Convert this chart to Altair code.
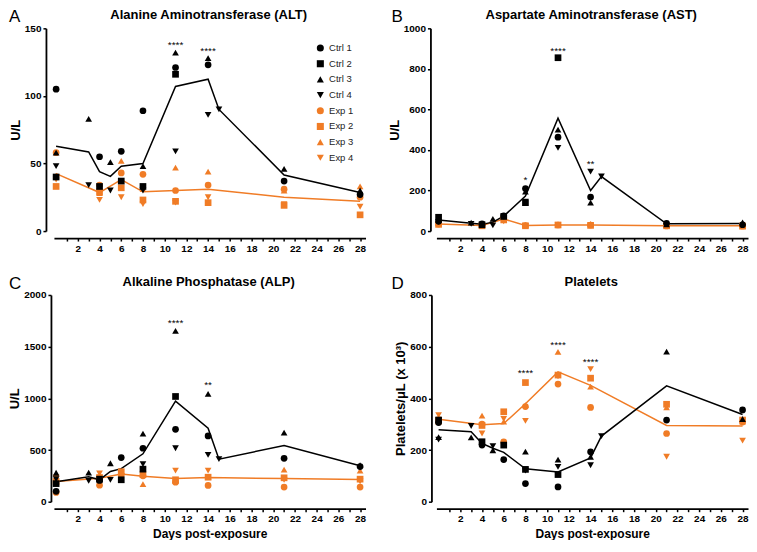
import altair as alt
import pandas as pd

# ---------------- data ----------------
SERIES = ["Ctrl 1", "Ctrl 2", "Ctrl 3", "Ctrl 4", "Exp 1", "Exp 2", "Exp 3", "Exp 4"]
SHAPES = ["circle", "square", "triangle-up", "triangle-down"] * 2
BLACK = "#000000"
ORANGE = "#F07C26"
COLORS = [BLACK] * 4 + [ORANGE] * 4

CTRL1_DAYS = [0, 4, 6, 8, 11, 14, 21, 28]
CTRL2_DAYS = [0, 4, 6, 8, 11]
CTRL3_DAYS = [0, 3, 5, 8, 11, 14, 21, 28]
CTRL4_DAYS = [0, 3, 5, 8, 11, 14, 15]
EXP_DAYS = [0, 4, 6, 8, 11, 14, 21, 28]

# Panel A - ALT (U/L)
ALT_CTRL1 = [105, 55, 59, 89, 121, 123, 37, 27]
ALT_CTRL2 = [40, 33, 37, 33, 116]
ALT_CTRL3 = [58, 83, 51, 48, 132, 128, 46, 30]
ALT_CTRL4 = [48, 34, 30, 30, 59, 86, 90]
ALT_EXP1 = [58, 34, 43, 42, 30, 34, 31, 25]
ALT_EXP2 = [33, 29, 32, 23, 22, 21, 19, 12]
ALT_EXP3 = [41, 28, 52, 31, 47, 44, 30, 33]
ALT_EXP4 = [38, 23, 25, 20, 21, 25, 20, 18]

# Panel B - AST (U/L)
AST_CTRL1 = [48, 35, 75, 210, 463, 168, 38, 31]
AST_CTRL2 = [68, 31, 72, 140, 855]
AST_CTRL3 = [55, 42, 60, 195, 500, 140, 33, 43]
AST_CTRL4 = [45, 35, 28, 145, 410, 293, 269]
AST_EXP1 = [35, 28, 65, 27, 30, 30, 25, 25]
AST_EXP2 = [33, 26, 55, 26, 30, 28, 26, 24]
AST_EXP3 = [40, 30, 70, 30, 32, 35, 28, 28]
AST_EXP4 = [32, 25, 48, 25, 28, 27, 25, 27]

# Panel C - ALP (U/L)
ALP_CTRL1 = [100, 205, 427, 517, 700, 636, 420, 340]
ALP_CTRL2 = [175, 218, 212, 315, 1018]
ALP_CTRL3 = [280, 282, 372, 658, 1653, 1043, 668, 354]
ALP_CTRL4 = [217, 202, 212, 363, 517, 453, 411]
ALP_EXP1 = [90, 160, 260, 250, 189, 157, 141, 141]
ALP_EXP2 = [196, 234, 290, 262, 212, 237, 231, 218]
ALP_EXP3 = [266, 240, 275, 170, 200, 240, 311, 301]
ALP_EXP4 = [234, 273, 250, 300, 301, 301, 212, 196]

# Panel D - Platelets (x 10^3 / uL)
PLT_CTRL1 = [306, 219, 163, 70, 57, 193, 316, 355]
PLT_CTRL2 = [316, 232, 219, 125, 105]
PLT_CTRL3 = [250, 249, 199, 194, 163, 174, 581, 320]
PLT_CTRL4 = [240, 293, 215, 120, 135, 141, 254]
PLT_EXP1 = [318, 300, 232, 368, 455, 365, 264, 308]
PLT_EXP2 = [315, 295, 348, 461, 490, 478, 377, 316]
PLT_EXP3 = [310, 333, 310, 374, 580, 445, 365, 310]
PLT_EXP4 = [335, 264, 320, 313, 485, 513, 174, 236]

# significance marks
ALT_STAR_DAYS = [11, 14]
ALT_STAR_VALUES = [138, 133]
ALT_STAR_TEXT = ["****", "****"]
AST_STAR_DAYS = [8, 11, 14]
AST_STAR_VALUES = [253, 890, 330]
AST_STAR_TEXT = ["*", "****", "**"]
ALP_STAR_DAYS = [11, 14]
ALP_STAR_VALUES = [1733, 1133]
ALP_STAR_TEXT = ["****", "**"]
PLT_STAR_DAYS = [8, 11, 14]
PLT_STAR_VALUES = [497, 606, 539]
PLT_STAR_TEXT = ["****", "****", "****"]

X_TICKS = list(range(1, 29))
FONT = "Liberation Sans"
W = 312
H_TOP = 203
H_BOTTOM = 207
X_DOMAIN = [-0.2, 28.5]


def make_df(c1, c2, c3, c4, e1, e2, e3, e4):
    rows = []
    for name, vals in zip(SERIES[4:], [e1, e2, e3, e4]):
        for d, v in zip(EXP_DAYS, vals):
            rows.append({"day": d, "value": v, "series": name, "group": "Exp"})
    for name, days, vals in zip(SERIES[:4], [CTRL1_DAYS, CTRL2_DAYS, CTRL3_DAYS, CTRL4_DAYS], [c1, c2, c3, c4]):
        for d, v in zip(days, vals):
            rows.append({"day": d, "value": v, "series": name, "group": "Ctrl"})
    return pd.DataFrame(rows)


def panel(df, stars, letter, title, ytitle, ymax, yticks, y_offset, xtitle, height):
    xs = alt.Scale(domain=X_DOMAIN, nice=False, zero=False, padding=0)
    ys = alt.Scale(domain=[0, ymax], nice=False, padding=0)
    xaxis = alt.Axis(values=X_TICKS, labelExpr="datum.value % 2 == 0 ? datum.label : ''",
                     offset=7, tickSize=3, tickWidth=1.5, domainWidth=1.8, domainColor=BLACK,
                     tickColor=BLACK, labelFontWeight="bold", labelFontSize=10, labelPadding=2,
                     labelColor=BLACK, grid=False, title=xtitle, titleFontSize=12,
                     titleFontWeight="bold", titlePadding=5, labelFlush=False, labelOverlap=False,
                     titleColor=BLACK)
    yaxis = alt.Axis(values=yticks, offset=y_offset, tickSize=3, tickWidth=1.5, domainWidth=1.8,
                     domainColor=BLACK, tickColor=BLACK, labelFontWeight="bold", labelFontSize=10,
                     labelColor=BLACK, grid=False, title=ytitle, titleFontSize=13,
                     titleFontWeight="bold", titlePadding=2, labelPadding=2, labelOverlap=False,
                     titleColor=BLACK, format="d")
    legend = alt.Legend(title=None, orient="none", legendX=262, legendY=15, symbolSize=50,
                        labelFontSize=9.5, labelFont=FONT, rowPadding=4.7, padding=0,
                        symbolStrokeWidth=0, labelColor="#222222")

    X = alt.X("day:Q", scale=xs, axis=xaxis)

    base = alt.Chart(df)
    line_exp = base.transform_filter(alt.datum.group == "Exp").mark_line(
        color=ORANGE, strokeWidth=1.5).encode(
        x=X, y=alt.Y("mean(value):Q", scale=ys, axis=yaxis))
    line_ctrl = base.transform_filter(alt.datum.group == "Ctrl").mark_line(
        color=BLACK, strokeWidth=1.5).encode(
        x=X, y=alt.Y("mean(value):Q", scale=ys, axis=yaxis))
    pts = base.mark_point(filled=True, size=45, opacity=1).encode(
        x=X,
        y=alt.Y("value:Q", scale=ys, axis=yaxis),
        color=alt.Color("series:N", scale=alt.Scale(domain=SERIES, range=COLORS), legend=legend),
        shape=alt.Shape("series:N", scale=alt.Scale(domain=SERIES, range=SHAPES), legend=legend),
        order=alt.Order("group:N", sort="descending"),
    )
    sdays, svals, stext = stars
    star_df = pd.DataFrame({"day": sdays, "value": svals, "txt": stext})
    star = alt.Chart(star_df).mark_text(fontSize=10, baseline="middle", color=BLACK, font=FONT).encode(
        x=X, y=alt.Y("value:Q", scale=ys, axis=yaxis), text="txt:N")
    lab_df = pd.DataFrame({"letter": [letter], "title": [title]})
    let = alt.Chart(lab_df).mark_text(
        fontSize=17, font=FONT, align="left", baseline="middle", color=BLACK).encode(
        x=alt.value(-45), y=alt.value(-11), text="letter:N")
    ttl = alt.Chart(lab_df).mark_text(
        fontSize=13, font=FONT, fontWeight="bold", align="center", baseline="middle",
        color=BLACK).encode(
        x=alt.value(W / 2 - 1), y=alt.value(-13), text="title:N")
    return alt.layer(line_exp, line_ctrl, pts, star, let, ttl).properties(width=W, height=height)


pA = panel(make_df(ALT_CTRL1, ALT_CTRL2, ALT_CTRL3, ALT_CTRL4, ALT_EXP1, ALT_EXP2, ALT_EXP3, ALT_EXP4),
           (ALT_STAR_DAYS, ALT_STAR_VALUES, ALT_STAR_TEXT), "A", "Alanine Aminotransferase (ALT)",
           "U/L", 150, [0, 50, 100, 150], 8, None, H_TOP)
pB = panel(make_df(AST_CTRL1, AST_CTRL2, AST_CTRL3, AST_CTRL4, AST_EXP1, AST_EXP2, AST_EXP3, AST_EXP4),
           (AST_STAR_DAYS, AST_STAR_VALUES, AST_STAR_TEXT), "B", "Aspartate Aminotransferase (AST)",
           "U/L", 1000, [0, 200, 400, 600, 800, 1000], 6, None, H_TOP)
pC = panel(make_df(ALP_CTRL1, ALP_CTRL2, ALP_CTRL3, ALP_CTRL4, ALP_EXP1, ALP_EXP2, ALP_EXP3, ALP_EXP4),
           (ALP_STAR_DAYS, ALP_STAR_VALUES, ALP_STAR_TEXT), "C", "Alkaline Phosphatase (ALP)",
           "U/L", 2000, [0, 500, 1000, 1500, 2000], 3, "Days post-exposure", H_BOTTOM)
pD = panel(make_df(PLT_CTRL1, PLT_CTRL2, PLT_CTRL3, PLT_CTRL4, PLT_EXP1, PLT_EXP2, PLT_EXP3, PLT_EXP4),
           (PLT_STAR_DAYS, PLT_STAR_VALUES, PLT_STAR_TEXT), "D", "Platelets",
           "Platelets/\u03bcL (x 10\u00b3)", 800, [0, 200, 400, 600, 800], 5, "Days post-exposure", H_BOTTOM)

chart = alt.concat(pA, pB, pC, pD, columns=2,
                   spacing=alt.RowColnumber(row=22, column=21)).properties(
    padding={"left": 0, "top": 0, "right": 0, "bottom": 0}, background="white"
).configure(font=FONT).configure_view(stroke=None).configure_axis(labelFont=FONT, titleFont=FONT)

chart.save("out.html", embed_options={"renderer": "svg", "actions": False})
